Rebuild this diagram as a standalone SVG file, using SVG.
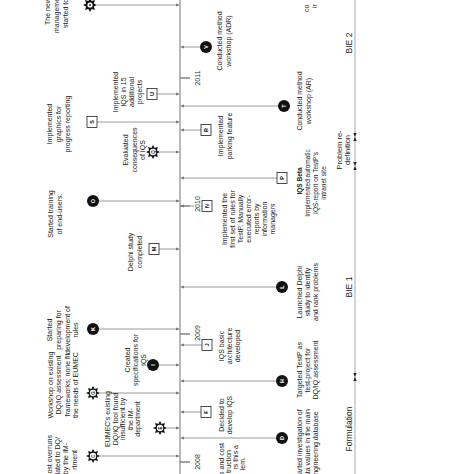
<svg xmlns="http://www.w3.org/2000/svg" width="474" height="474" viewBox="0 0 474 474">
<style>
.t{font-family:"Liberation Sans",Arial,sans-serif;font-size:7px;fill:#222;text-anchor:middle}
.ts{font-size:6.5px}
.tb{font-weight:bold}
.te{text-anchor:end}
.tst{text-anchor:start}
.yr{font-family:"Liberation Sans",Arial,sans-serif;font-size:7px;fill:#333;text-anchor:middle;paint-order:stroke;stroke:#fff;stroke-width:2px}
.ph{font-family:"Liberation Sans",Arial,sans-serif;font-size:8.5px;fill:#222;text-anchor:middle}
.ph2{font-size:7.5px}
.ax{stroke:#8c8c8c;stroke-width:1.2;fill:none}
.bie{stroke:#a8a8a8;stroke-width:1;fill:none}
.cn{stroke:#9a9a9a;stroke-width:1;fill:none;marker-end:url(#ah)}
.tk{stroke:#666;stroke-width:1.2}
.cir{fill:#111}
.box{fill:#fff;stroke:#222;stroke-width:0.8}
.wc{fill:#fff}
.lw{font-family:"Liberation Sans",Arial,sans-serif;font-size:5.5px;font-weight:bold;fill:#fff;text-anchor:middle}
.lb{font-family:"Liberation Sans",Arial,sans-serif;font-size:5.5px;font-weight:bold;fill:#111;text-anchor:middle}
.ls{font-family:"Liberation Sans",Arial,sans-serif;font-size:4.5px;font-weight:bold;fill:#111;text-anchor:middle}
.mk{fill:#222}
</style>
<defs>
<marker id="ah" markerWidth="4" markerHeight="4" refX="3.5" refY="2" orient="auto" markerUnits="userSpaceOnUse"><path d="M0,0.5 L3.5,2 L0,3.5 Z" fill="#777"/></marker>
<path id="star" fill="#111" d="M7,0 L3.88,1.61 L4.95,4.95 L1.61,3.88 L0,7 L-1.61,3.88 L-4.95,4.95 L-3.88,1.61 L-7,0 L-3.88,-1.61 L-4.95,-4.95 L-1.61,-3.88 L0,-7 L1.61,-3.88 L4.95,-4.95 L3.88,-1.61 Z"/>
</defs>
<g transform="translate(0,474) rotate(-90)">
<g id="axes">
<line class="ax" x1="0" y1="180" x2="474" y2="180"/>
<line class="bie" x1="0" y1="355" x2="474" y2="355"/>
<line class="tk" x1="12" y1="180" x2="12" y2="190"/>
<line class="tk" x1="140" y1="180" x2="140" y2="190"/>
<line class="tk" x1="268" y1="180" x2="268" y2="190"/>
<line class="tk" x1="396" y1="180" x2="396" y2="190"/>
<path class="mk" d="M337,355 L333,353.3 L333,356.7 Z M337,355 L341,353.3 L341,356.7 Z"/>
<path class="mk" d="M308,355 L304,353.3 L304,356.7 Z M308,355 L312,353.3 L312,356.7 Z"/>
<path class="mk" d="M97,355 L93,353.3 L93,356.7 Z M97,355 L101,353.3 L101,356.7 Z"/>
</g>
<g id="connectors">
<path class="cn" d="M469,97 L469,179.4"/>
<path class="cn" d="M352,97 L352,179.4"/>
<path class="cn" d="M380,157 L380,179.4"/>
<path class="cn" d="M322,160 L322,179.4"/>
<path class="cn" d="M273,99 L273,179.4"/>
<path class="cn" d="M225,159 L225,179.4"/>
<path class="cn" d="M145,99 L145,179.4"/>
<path class="cn" d="M109,159 L109,179.4"/>
<path class="cn" d="M81,100 L81,179.4"/>
<path class="cn" d="M46,167 L46,179.4"/>
<path class="cn" d="M18,100 L18,179.4"/>
<path class="cn" d="M427,200 L427,180.6"/>
<path class="cn" d="M344,201 L344,180.6"/>
<path class="cn" d="M368,278 L368,180.6"/>
<path class="cn" d="M296,277 L296,180.6"/>
<path class="cn" d="M268,202 L268,180.6"/>
<path class="cn" d="M187,276 L187,180.6"/>
<path class="cn" d="M129,202 L129,180.6"/>
<path class="cn" d="M93,276 L93,180.6"/>
<path class="cn" d="M36,276 L36,180.6"/>
<path class="cn" d="M62,201 L62,180.6"/>
</g>
<g id="years">
<text class="yr" x="12" y="200">2008</text>
<text class="yr" x="141" y="200">2009</text>
<text class="yr" x="270" y="200">2010</text>
<text class="yr" x="396" y="200">2011</text>
</g>
<g id="phases">
<text class="ph" x="431" y="352">BIE 2</text>
<text class="ph" x="187" y="352">BIE 1</text>
<text class="ph ph2"><tspan x="324" y="342">Problem re-</tspan><tspan x="324" y="350">definition</tspan></text>
<text class="ph te" x="45" y="352">Formulation</text>
</g>
<g id="node-top">
<use href="#star" x="469" y="90"/><circle class="wc" cx="469" cy="90" r="2.6"/><circle cx="469" cy="90" r="0.9" fill="#111"/>
<text class="t tst"><tspan x="449" y="50">The new</tspan><tspan x="441" y="59">management</tspan><tspan x="446" y="68">started to</tspan></text>
</g>
<g id="node-S">
<rect class="box" x="346.5" y="87" width="11" height="10"/><text class="lb" x="352" y="94">S</text>
<text class="t"><tspan x="350" y="52">Implemented</tspan><tspan x="350" y="61">graphics for</tspan><tspan x="350" y="70">progress reporting</tspan></text>
</g>
<g id="node-U">
<rect class="box" x="374.5" y="147" width="11" height="10"/><text class="lb" x="380" y="154">U</text>
<text class="t"><tspan x="382" y="118">Implemented</tspan><tspan x="382" y="126">IQS in 15</tspan><tspan x="382" y="134">additional</tspan><tspan x="382" y="142">projects</tspan></text>
</g>
<g id="node-Q">
<use href="#star" x="322" y="153"/><circle class="wc" cx="322" cy="153" r="3.2"/><text class="ls" x="322" y="154.6">Q</text>
<text class="t"><tspan x="324" y="128">Evaluated</tspan><tspan x="324" y="137">consequences</tspan><tspan x="324" y="145">of IQS</tspan></text>
</g>
<g id="node-O">
<circle class="cir" cx="273" cy="93" r="6"/><text class="lw" x="273" y="95">O</text>
<text class="t"><tspan x="260" y="53">Started training</tspan><tspan x="260" y="62">of end-users.</tspan></text>
</g>
<g id="node-M">
<rect class="box" x="219.5" y="149" width="11" height="10"/><text class="lb" x="225" y="156">M</text>
<text class="t"><tspan x="222" y="133">Delphi study</tspan><tspan x="222" y="142">completed</tspan></text>
</g>
<g id="node-K">
<circle class="cir" cx="145" cy="93" r="6"/><text class="lw" x="145" y="95">K</text>
<text class="t"><tspan x="144" y="52">Started</tspan><tspan x="144" y="61">preparing for</tspan><tspan x="144" y="70">development of</tspan><tspan x="144" y="78">rules</tspan></text>
</g>
<g id="node-I">
<circle class="cir" cx="109" cy="153" r="6"/><text class="lw" x="109" y="155">I</text>
<text class="t"><tspan x="114" y="130">Created</tspan><tspan x="114" y="138">specifications for</tspan><tspan x="114" y="146">IQS</tspan></text>
</g>
<g id="node-G">
<use href="#star" x="81" y="93"/><circle class="wc" cx="81" cy="93" r="3.2"/><text class="ls" x="81" y="94.6">G</text>
<text class="t"><tspan x="89" y="53">Workshop on existing</tspan><tspan x="89" y="61">DQ/IQ assessment</tspan><tspan x="89" y="70">frameworks; none fit</tspan><tspan x="89" y="78">the needs of EUMEC</tspan></text>
</g>
<g id="node-E">
<use href="#star" x="46" y="160"/><circle class="wc" cx="46" cy="160" r="3.2"/><text class="ls" x="46" y="161.6">E</text>
<text class="t"><tspan x="55" y="110">EUMEC's existing</tspan><tspan x="55" y="117.5">DQ/IQ tool found</tspan><tspan x="55" y="125">insufficient by</tspan><tspan x="55" y="132.5">the IM-</tspan><tspan x="55" y="140">department</tspan></text>
</g>
<g id="node-C">
<use href="#star" x="18" y="93"/><circle class="wc" cx="18" cy="93" r="3.2"/><text class="ls" x="18" y="94.6">C</text>
<text class="t te"><tspan x="39" y="52">cost overruns</tspan><tspan x="37" y="60">- related to DQ/</tspan><tspan x="31" y="68">by the IM-</tspan><tspan x="24" y="77">rtment</tspan></text>
</g>
<g id="node-V">
<circle class="cir" cx="427" cy="206" r="6"/><text class="lw" x="427" y="208">V</text>
<text class="t"><tspan x="433" y="222">Conducted method</tspan><tspan x="433" y="231">workshop (ADR)</tspan></text>
</g>
<g id="node-R">
<rect class="box" x="338.5" y="201" width="11" height="10"/><text class="lb" x="344" y="208">R</text>
<text class="t"><tspan x="338" y="223">Implemented</tspan><tspan x="338" y="232">parking feature</tspan></text>
</g>
<g id="node-T">
<circle class="cir" cx="368" cy="284" r="6"/><text class="lw" x="368" y="286">T</text>
<text class="t"><tspan x="373" y="302">Conducted method</tspan><tspan x="373" y="311">workshop (AR)</tspan></text>
</g>
<g id="node-topright">
<text class="t tst"><tspan x="462" y="309">co</tspan><tspan x="466" y="317">ir</tspan></text>
</g>
<g id="node-P">
<rect class="box" x="290.5" y="277" width="11" height="10"/><text class="lb" x="296" y="284">P</text>
<text class="t ts tb" x="293" y="302">IQS Beta</text>
<text class="t ts"><tspan x="291" y="310">Implemented automatic</tspan><tspan x="291" y="318">IQS-report on TestP's</tspan><tspan x="291" y="326">intranet site</tspan></text>
</g>
<g id="node-N">
<rect class="box" x="262.5" y="202" width="11" height="10"/><text class="lb" x="268" y="209">N</text>
<text class="t"><tspan x="255" y="227">Implemented the</tspan><tspan x="255" y="235">first set of rules for</tspan><tspan x="255" y="243">TestP. Manually</tspan><tspan x="255" y="251">executed error-</tspan><tspan x="255" y="259">reports by</tspan><tspan x="255" y="267">information</tspan><tspan x="255" y="275">managers</tspan></text>
</g>
<g id="node-L">
<circle class="cir" cx="187" cy="282" r="6"/><text class="lw" x="187" y="284">L</text>
<text class="t"><tspan x="182" y="302">Launched Delphi</tspan><tspan x="182" y="310">study to identify</tspan><tspan x="182" y="318">and rank problems</tspan></text>
</g>
<g id="node-J">
<rect class="box" x="123.5" y="202" width="11" height="10"/><text class="lb" x="129" y="209">J</text>
<text class="t"><tspan x="128" y="224">IQS basic</tspan><tspan x="128" y="232">architecture</tspan><tspan x="128" y="240">developed</tspan></text>
</g>
<g id="node-H">
<circle class="cir" cx="93" cy="282" r="6"/><text class="lw" x="93" y="284">H</text>
<text class="t"><tspan x="104" y="302">Targeted TestP as</tspan><tspan x="104" y="310">test-project for</tspan><tspan x="104" y="318">DQ/IQ assessment</tspan></text>
</g>
<g id="node-D">
<circle class="cir" cx="36" cy="282" r="6"/><text class="lw" x="36" y="284">D</text>
<text class="t"><tspan x="29" y="302">Started investigation of</tspan><tspan x="29" y="310">data values in the main</tspan><tspan x="29" y="318">engineering database</tspan></text>
</g>
<g id="node-F">
<rect class="box" x="56.5" y="201" width="11" height="10"/><text class="lb" x="62" y="208">F</text>
<text class="t"><tspan x="59" y="224">Decided to</tspan><tspan x="59" y="232">develop IQS</tspan></text>
</g>
<g id="node-B">
<text class="t te"><tspan x="31" y="224">s and cost</tspan><tspan x="24" y="231">truction</tspan><tspan x="29" y="238">rs this a</tspan><tspan x="17" y="245">lem.</tspan></text>
</g>
</g>
</svg>
